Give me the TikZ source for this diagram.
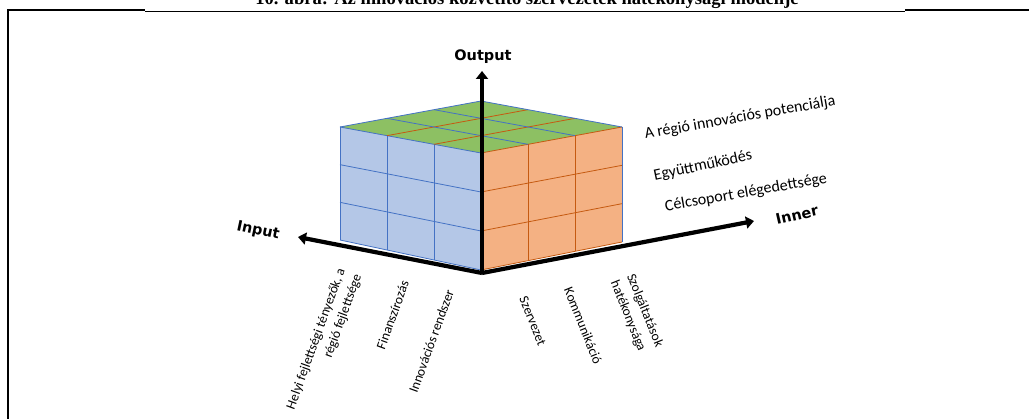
\documentclass[tikz,border=0pt]{standalone}
\usepackage{fontspec}
\setmainfont{Carlito}
\newfontfamily\axisfont{DejaVu Sans}
\newfontfamily\titlefont{Liberation Serif}
\usetikzlibrary{calc,arrows.meta}
\definecolor{leftfill}{HTML}{B4C7E7}
\definecolor{leftline}{HTML}{4472C4}
\definecolor{rightfill}{HTML}{F4B183}
\definecolor{rightline}{HTML}{C55A11}
\definecolor{topfill}{HTML}{8DC063}
\tikzset{
  frameline/.style={line width=2.6pt},
  axisline/.style={line width=4.2pt,-{Triangle[length=8pt,width=12pt]}},
  axislabel/.style={font=\axisfont\bfseries\fontsize{14.5}{17}\selectfont,inner sep=0pt},
  sidelabel/.style={font=\fontsize{16}{19}\selectfont,inner sep=0pt},
  bottomlabel/.style={font=\fontsize{13.5}{17.5}\selectfont,inner sep=0pt},
  blueedge/.style={draw=leftline,line width=0.8pt},
  orangeedge/.style={draw=rightline,line width=0.8pt},
}
\begin{document}
\begin{tikzpicture}[x=1pt,y=-1pt]
\useasboundingbox (0,0) rectangle (1029,419);
% title (cut off at top)
\node[font=\titlefont\bfseries\fontsize{18.6}{21}\selectfont,anchor=base,inner sep=0pt] (title) at (527,5) {10. ábra: Az innovációs közvetítő szervezetek hatékonysági modellje};
% frame
\draw[frameline] (8,425) -- (8,10) -- (145,10);
\draw[frameline] (905,10) -- (1035,10);
\draw[line width=0.8pt] (145,11) -- (905,11);
% cube corners
\coordinate (O) at (481,270);
\coordinate (LB) at (340,240);
\coordinate (RB) at (622,242);
\coordinate (FT) at (481,153);
\coordinate (LT) at (340,127);
\coordinate (RT) at (622,127);
\coordinate (BT) at (481,101);
% faces
\fill[leftfill] (LB) -- (O) -- (FT) -- (LT) -- cycle;
\fill[rightfill] (O) -- (RB) -- (RT) -- (FT) -- cycle;
\fill[topfill] (LT) -- (FT) -- (RT) -- (BT) -- cycle;
% left face grid
\foreach \k in {0,1,2,3} {
  \draw[blueedge] ($(LB)!\k/3!(O)$) -- ($(LT)!\k/3!(FT)$);
  \draw[blueedge] ($(LB)!\k/3!(LT)$) -- ($(O)!\k/3!(FT)$);
}
% right face grid
\foreach \k in {0,1,2} {
  \draw[orangeedge] ($(O)!\k/3!(RB)$) -- ($(FT)!\k/3!(RT)$);
  \draw[orangeedge] ($(O)!\k/3!(FT)$) -- ($(RB)!\k/3!(RT)$);
}
\draw[orangeedge] (FT) -- (RT);
\draw[blueedge] (RB) -- (RT);
% top face grid
\foreach \k in {1,2} {
  \draw[orangeedge] ($(LT)!\k/3!(FT)$) -- ($(BT)!\k/3!(RT)$);
  \draw[blueedge] ($(LT)!\k/3!(BT)$) -- ($(FT)!\k/3!(RT)$);
}
\draw[blueedge] (LT) -- (BT) -- (RT);
% axes
\coordinate (A0) at (482,273);
\coordinate (outtip) at (482,71);
\coordinate (intip) at (298,237);
\coordinate (innertip) at (754,221);
\draw[axisline] (A0) -- (intip);
\draw[axisline] (A0) -- (innertip);
\draw[axisline,line width=4.6pt] (A0) -- (outtip);
% axis labels
\node[axislabel] (output) at (483,57) {Output};
\node[axislabel,rotate=-12] (input) at (258,231) {Input};
\node[axislabel,rotate=13] (inner) at (797,215) {Inner};
% side labels
\node[sidelabel,rotate=10] (potencial) at (740,118) {A régió innovációs potenciálja};
\node[sidelabel,rotate=12] (egyutt) at (703,166) {Együttműködés};
\node[sidelabel,rotate=10] (celcs) at (746,193) {Célcsoport elégedettsége};
% bottom labels, input side
\node[bottomlabel,rotate=70,anchor=east,align=right] (helyi) at (350,272) {Helyi fejlettségi tényezők, a\\régió fejlettsége};
\node[bottomlabel,rotate=70,anchor=east] (finansz) at (405,281) {Finanszírozás};
\node[bottomlabel,rotate=70,anchor=east] (innrend) at (450,290) {Innovációs rendszer};
% bottom labels, inner side
\node[bottomlabel,rotate=-68,anchor=west] (szerv) at (523,297) {Szervezet};
\node[bottomlabel,rotate=-68,anchor=west] (komm) at (568,288) {Kommunikáció};
\node[bottomlabel,rotate=-68,anchor=west,align=left] (szolg) at (622,278) {Szolgáltatások\\hatékonysága};
\end{tikzpicture}
\end{document}
